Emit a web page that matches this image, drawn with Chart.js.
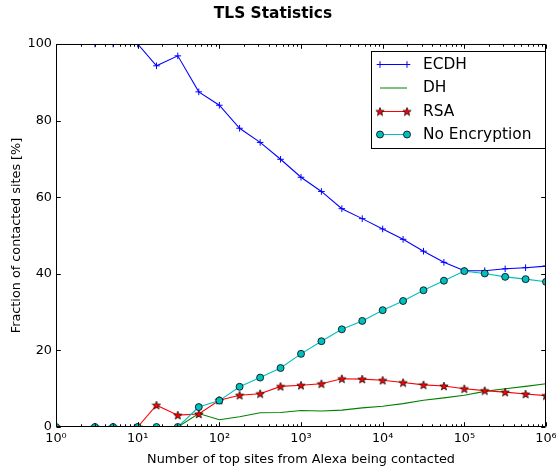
<!DOCTYPE html>
<html>
<head>
<meta charset="utf-8">
<script src="https://cdn.jsdelivr.net/npm/chart.js@4"></script>
<style>
  body { margin: 0; background: #fff; }
  canvas { display: block; }
</style>
</head>
<body>
<canvas id="chart" width="556" height="469"></canvas>
<script>
// number of top sites (x, log scale)
const sites = [1, 3, 5, 10, 17, 31, 56, 100, 177, 316, 562, 1000, 1778, 3162, 5623,
  10000, 17782, 31622, 56234, 100000, 177827, 316227, 562341, 1000000];

// fraction of contacted sites [%]
const ecdh = [100, 100, 100, 100, 94.3, 96.9, 87.5, 84.0, 78.0, 74.3, 69.9, 65.2, 61.5, 57.0, 54.4,
  51.7, 49.0, 45.9, 43.0, 40.8, 40.8, 41.3, 41.6, 42.0];
const dh = [0, 0, 0, 0, 0, 0, 3.5, 1.9, 2.7, 3.7, 3.8, 4.3, 4.2, 4.4, 5.0,
  5.4, 6.1, 7.0, 7.6, 8.3, 9.3, 10.0, 10.6, 11.3];
const rsa = [0, 0, 0, 0, 5.7, 3.1, 3.4, 7.0, 8.3, 8.7, 10.6, 10.9, 11.3, 12.6, 12.5,
  12.2, 11.6, 11.0, 10.7, 10.0, 9.5, 9.1, 8.6, 8.2];
const noEnc = [0, 0, 0, 0, 0, 0, 5.2, 6.9, 10.5, 12.9, 15.4, 19.1, 22.4, 25.5, 27.7,
  30.5, 32.9, 35.7, 38.2, 40.7, 40.1, 39.2, 38.6, 37.9];

const xTickValues = [1, 10, 100, 1000, 10000, 100000, 1000000];
const xTickLabels = ["10⁰", "10¹", "10²", "10³", "10⁴", "10⁵", "10⁶"];
const yTickValues = [0, 20, 40, 60, 80, 100];

const FONT = "'DejaVu Sans', 'Liberation Sans', sans-serif";
Chart.defaults.font.family = FONT;
Chart.defaults.color = "#000";

function pts(ys){
  return sites.map((x, i) => ({ x, y: ys[i] }));
}

// filled 5 point star like matplotlib '*'
function makeStar(size){
  const c = document.createElement("canvas");
  c.width = c.height = size;
  const g = c.getContext("2d");
  const cx = size / 2, cy = size / 2 + 0.4, R = size / 2 - 0.6, r = R * 0.42;
  g.beginPath();
  for(let i = 0; i < 10; i++){
    const a = -Math.PI / 2 + i * Math.PI / 5;
    const rad = i % 2 ? r : R;
    g.lineTo(cx + rad * Math.cos(a), cy + rad * Math.sin(a));
  }
  g.closePath();
  g.fillStyle = "#ff0000";
  g.fill();
  g.lineWidth = 0.7;
  g.strokeStyle = "#000";
  g.stroke();
  return c;
}
const starImg = makeStar(10);

// frame + inward ticks (matplotlib classic look)
const framePlugin = {
  id: "frame",
  afterDatasetsDraw(chart){
    const { ctx, chartArea: a, scales: { x, y } } = chart;
    ctx.save();
    ctx.strokeStyle = "#000";
    ctx.lineWidth = 1;
    ctx.beginPath();
    const L = a.left + 0.5, R = a.right - 0.5, T = a.top + 0.5, B = a.bottom - 0.5;
    ctx.rect(L, T, R - L, B - T);
    ctx.stroke();

    ctx.beginPath();
    const tick = (px, len) => {
      const xx = Math.round(px) + 0.5;
      ctx.moveTo(xx, B); ctx.lineTo(xx, B - len);
      ctx.moveTo(xx, T); ctx.lineTo(xx, T + len);
    };
    xTickValues.forEach(v => tick(x.getPixelForValue(v), 4.3));
    for(let k = 0; k < 6; k++){
      for(let m = 2; m < 10; m++) tick(x.getPixelForValue(m * Math.pow(10, k)), 2.2);
    }
    yTickValues.forEach(v => {
      const yy = Math.round(y.getPixelForValue(v)) + 0.5;
      ctx.moveTo(L, yy); ctx.lineTo(L + 4.3, yy);
      ctx.moveTo(R, yy); ctx.lineTo(R - 4.3, yy);
    });
    ctx.stroke();
    ctx.restore();
  }
};

// boxed legend, two sample markers per entry
const legendPlugin = {
  id: "boxLegend",
  afterDraw(chart){
    const { ctx } = chart;
    const bx = 371.5, by = 51.5, bw = 174, bh = 97;
    ctx.save();
    ctx.fillStyle = "#fff";
    ctx.fillRect(bx, by, bw, bh);
    ctx.strokeStyle = "#000";
    ctx.lineWidth = 1;
    ctx.strokeRect(bx, by, bw, bh);

    const rows = [64.5, 88, 111.5, 134.5];
    const x0 = 380, x1 = 407;
    chart.data.datasets.forEach((ds, i) => {
      const yy = rows[i];
      ctx.strokeStyle = ds.borderColor;
      ctx.lineWidth = 1;
      ctx.beginPath(); ctx.moveTo(x0, yy); ctx.lineTo(x1, yy); ctx.stroke();
      [x0, x1].forEach(px => {
        if(ds.pointStyle === "cross"){
          ctx.strokeStyle = ds.borderColor;
          ctx.beginPath();
          ctx.moveTo(px - 3.3, yy); ctx.lineTo(px + 3.3, yy);
          ctx.moveTo(px, yy - 3.3); ctx.lineTo(px, yy + 3.3);
          ctx.stroke();
        } else if(ds.pointStyle === "circle" && ds.pointRadius > 0){
          ctx.beginPath(); ctx.arc(px, yy, ds.pointRadius, 0, Math.PI * 2);
          ctx.fillStyle = ds.pointBackgroundColor; ctx.fill();
          ctx.strokeStyle = ds.pointBorderColor; ctx.lineWidth = ds.pointBorderWidth; ctx.stroke();
        } else if(ds.pointStyle === starImg){
          ctx.drawImage(starImg, px - starImg.width / 2, yy - starImg.height / 2);
        }
      });
      ctx.fillStyle = "#000";
      ctx.font = "15.4px " + FONT;
      ctx.textBaseline = "middle";
      ctx.textAlign = "left";
      ctx.fillText(ds.label, 423, yy);
    });
    ctx.restore();
  }
};

new Chart(document.getElementById("chart"), {
  type: "line",
  data: {
    datasets: [
      { label: "ECDH", data: pts(ecdh), borderColor: "#0000ff", borderWidth: 1.07,
        pointStyle: "cross", pointRadius: 3.3, pointBorderColor: "#0000ff", pointBorderWidth: 1, order: 4 },
      { label: "DH", data: pts(dh), borderColor: "#008000", borderWidth: 1.07,
        pointStyle: "circle", pointRadius: 0, order: 3 },
      { label: "RSA", data: pts(rsa), borderColor: "#ff0000", borderWidth: 1.07,
        pointStyle: starImg, order: 2 },
      { label: "No Encryption", data: pts(noEnc), borderColor: "#00bfbf", borderWidth: 1.07,
        pointStyle: "circle", pointRadius: 3.5, pointBackgroundColor: "#00bfbf",
        pointBorderColor: "#000", pointBorderWidth: 0.8, order: 1 }
    ]
  },
  options: {
    responsive: false,
    animation: false,
    devicePixelRatio: 1,
    layout: { padding: { left: 0, right: 10, top: 0, bottom: 0 } },
    elements: { line: { tension: 0, fill: false } },
    plugins: {
      legend: { display: false },
      tooltip: { enabled: false },
      title: {
        display: true, text: "TLS Statistics", color: "#000",
        font: { size: 15.4, weight: "bold" }, padding: { top: 5, bottom: 20.5 }
      }
    },
    scales: {
      x: {
        type: "logarithmic", min: 1, max: 1000000,
        afterBuildTicks: (s) => { s.ticks = xTickValues.map(v => ({ value: v })); },
        afterFit: (s) => { s.height = 42; s.paddingLeft = 0; s.paddingRight = 0; },
        ticks: {
          autoSkip: false, maxRotation: 0, padding: 4, color: "#000",
          font: { size: 12.8 },
          callback: (v) => xTickLabels[xTickValues.indexOf(v)]
        },
        grid: { display: false, drawTicks: false },
        border: { display: false },
        title: { display: true, text: "Number of top sites from Alexa being contacted",
          color: "#000", font: { size: 12.8 }, padding: { top: 0, bottom: 1.5 } }
      },
      y: {
        min: 0, max: 100,
        afterBuildTicks: (s) => { s.ticks = yTickValues.map(v => ({ value: v })); },
        afterFit: (s) => { s.width = 56; s.paddingTop = 0; s.paddingBottom = 0; },
        ticks: { padding: 4, color: "#000", font: { size: 12.8 } },
        grid: { display: false, drawTicks: false },
        border: { display: false },
        title: { display: true, text: "Fraction of contacted sites [%]",
          color: "#000", font: { size: 12.8 }, padding: { top: 8.5, bottom: 0 } }
      }
    }
  },
  plugins: [framePlugin, legendPlugin]
});
</script>
</body>
</html>
